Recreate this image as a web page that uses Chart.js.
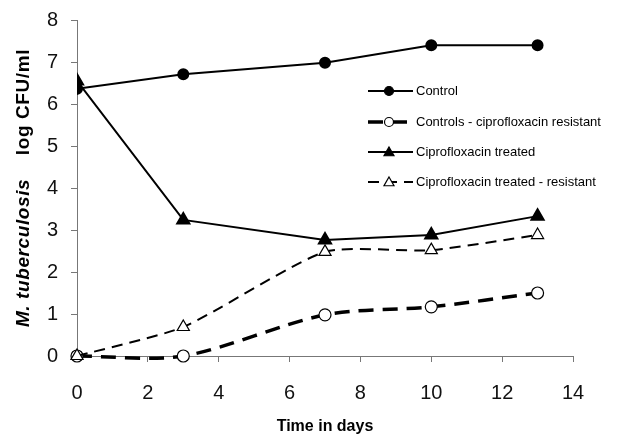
<!DOCTYPE html>
<html>
<head>
<meta charset="utf-8">
<script src="https://cdn.jsdelivr.net/npm/chart.js@4.4.0/dist/chart.umd.min.js"></script>
<style>
  html, body { margin: 0; padding: 0; background: #fff; }
  #wrap { width: 635px; height: 438px; position: relative; }
</style>
</head>
<body>
<div id="wrap"><canvas id="chart" width="635" height="438"></canvas></div>
<script>
// 数据
const days = [0, 3, 7, 10, 13];
const control = [6.36, 6.71, 6.98, 7.40, 7.40];
const controlResistant = [0.0, 0.0, 0.98, 1.17, 1.50];
const ciproTreated = [6.55, 3.24, 2.76, 2.88, 3.33];
const ciproResistant = [0.0, 0.69, 2.48, 2.52, 2.88];
const seriesNames = ['Control', 'Controls - ciprofloxacin resistant', 'Ciprofloxacin treated', 'Ciprofloxacin treated - resistant'];
const xTicks = [0, 2, 4, 6, 8, 10, 12, 14];
const yTicks = [0, 1, 2, 3, 4, 5, 6, 7, 8];

const FONT = '"Liberation Sans", Arial, sans-serif';

function pts(vals) {
    return days.map((d, i) => ({ x: d, y: vals[i] }));
}

// 图例 + 纵轴标题
const extras = {
    id: 'extras',
    afterDraw(chart) {
        const ctx = chart.ctx;
        ctx.save();
        // 图例
        const rows = [91, 122, 152, 182];
        chart.data.datasets.forEach((ds, i) => {
            const y = rows[i];
            ctx.strokeStyle = '#000';
            ctx.lineWidth = ds.borderWidth;
            ctx.setLineDash(ds.borderDash || []);
            ctx.beginPath();
            ctx.moveTo(368, y);
            ctx.lineTo(413, y);
            ctx.stroke();
            ctx.setLineDash([]);
            ctx.lineWidth = 1.2;
            ctx.fillStyle = ds.pointBackgroundColor;
            ctx.beginPath();
            if (ds.pointStyle === 'triangle') {
                const r = 5;
                ctx.moveTo(389, y - r);
                ctx.lineTo(389 + r, y + r * 0.75);
                ctx.lineTo(389 - r, y + r * 0.75);
                ctx.closePath();
            } else {
                ctx.arc(389, y, 4.5, 0, Math.PI * 2);
            }
            ctx.fill();
            ctx.stroke();
            ctx.fillStyle = '#000';
            ctx.font = '13px ' + FONT;
            ctx.textBaseline = 'middle';
            ctx.textAlign = 'left';
            ctx.fillText(seriesNames[i], 416, y);
        });
        // 纵轴标题
        ctx.translate(24, 188);
        ctx.rotate(-Math.PI / 2);
        ctx.textBaseline = 'middle';
        ctx.letterSpacing = '0.6px';
        const part1 = 'M. tuberculosis';
        const part2 = '    log CFU/ml';
        ctx.font = 'italic bold 19px ' + FONT;
        const w1 = ctx.measureText(part1).width;
        ctx.font = 'bold 19px ' + FONT;
        const w2 = ctx.measureText(part2).width;
        let x0 = -(w1 + w2) / 2;
        ctx.font = 'italic bold 19px ' + FONT;
        ctx.textAlign = 'left';
        ctx.fillText(part1, x0, 0);
        ctx.font = 'bold 19px ' + FONT;
        ctx.fillText(part2, x0 + w1, 0);
        ctx.letterSpacing = '0px';
        ctx.restore();
    }
};

new Chart(document.getElementById('chart'), {
    type: 'line',
    data: {
        datasets: [
            {
                label: seriesNames[0],
                data: pts(control),
                borderColor: '#000',
                borderWidth: 2,
                pointStyle: 'circle',
                pointRadius: 5,
                pointBackgroundColor: '#000',
                pointBorderColor: '#000',
                order: 1,
                tension: 0
            },
            {
                label: seriesNames[1],
                data: pts(controlResistant),
                borderColor: '#000',
                borderWidth: 3.5,
                borderDash: [15, 9],
                pointStyle: 'circle',
                pointRadius: 6,
                pointBackgroundColor: '#fff',
                pointBorderColor: '#000',
                pointBorderWidth: 1.2,
                capBezierPoints: false,
                clip: 10,
                order: 2,
                tension: 0.3
            },
            {
                label: seriesNames[2],
                data: pts(ciproTreated),
                borderColor: '#000',
                borderWidth: 2,
                pointStyle: 'triangle',
                pointRadius: 7,
                pointBackgroundColor: '#000',
                pointBorderColor: '#000',
                order: 0,
                tension: 0
            },
            {
                label: seriesNames[3],
                data: pts(ciproResistant),
                borderColor: '#000',
                borderWidth: 2,
                borderDash: [11, 7],
                pointStyle: 'triangle',
                pointRadius: 7,
                pointBackgroundColor: '#fff',
                pointBorderColor: '#000',
                pointBorderWidth: 1.2,
                clip: 10,
                order: 0,
                tension: 0.2
            }
        ]
    },
    options: {
        responsive: false,
        animation: false,
        layout: { padding: { top: 20, right: 62, left: 0, bottom: 0 } },
        plugins: {
            legend: { display: false },
            tooltip: { enabled: false }
        },
        scales: {
            x: {
                type: 'linear',
                min: 0,
                max: 14,
                afterBuildTicks(axis) { axis.ticks = xTicks.map(v => ({ value: v })); },
                afterFit(axis) { axis.height = 82; },
                grid: { drawOnChartArea: false, drawTicks: true, tickLength: 6, color: '#777' },
                border: { color: '#777', width: 1 },
                ticks: { color: '#111', font: { family: FONT, size: 20 }, padding: 19 },
                title: {
                    display: true,
                    text: 'Time in days',
                    color: '#000',
                    font: { family: FONT, size: 16, weight: 'bold' },
                    padding: { top: 8, bottom: 2 }
                }
            },
            y: {
                min: 0,
                max: 8,
                afterBuildTicks(axis) { axis.ticks = yTicks.map(v => ({ value: v })); },
                afterFit(axis) {
                    axis.width = 77;
                    axis.paddingTop = 0;
                    axis.paddingBottom = 0;
                },
                grid: { drawOnChartArea: false, drawTicks: true, tickLength: 6, color: '#777' },
                border: { color: '#777', width: 1 },
                ticks: { color: '#111', font: { family: FONT, size: 20 }, padding: 13 }
            }
        }
    },
    plugins: [extras]
});
</script>
</body>
</html>
